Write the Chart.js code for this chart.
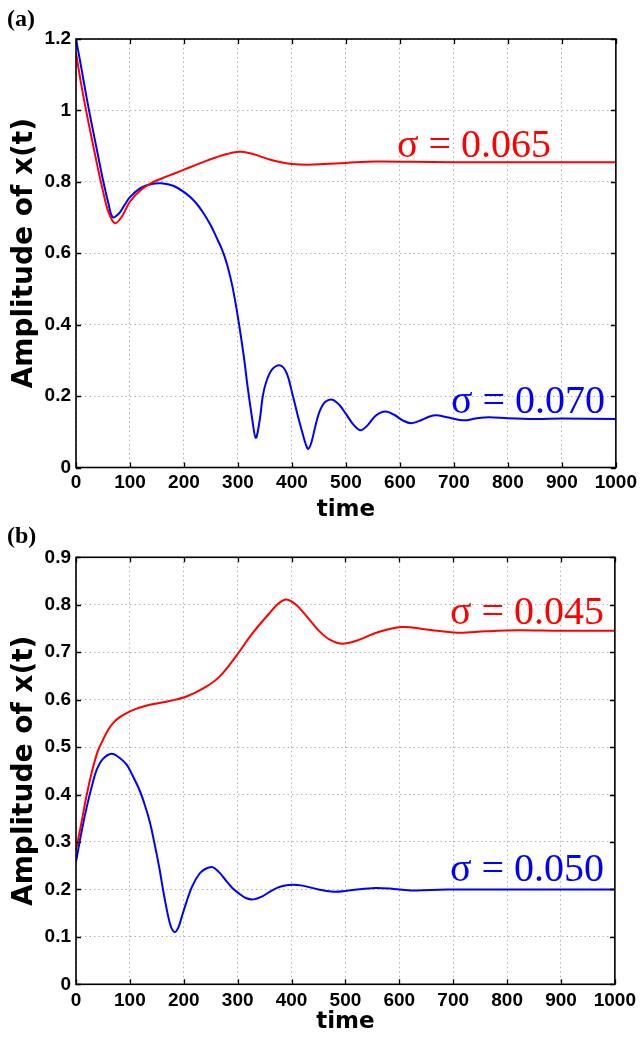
<!DOCTYPE html>
<html><head><meta charset="utf-8">
<script src="https://cdn.jsdelivr.net/npm/chart.js@4.4.0/dist/chart.umd.min.js"></script>
<style>
html,body{margin:0;padding:0;background:#fff;}
canvas{display:block;}
</style></head><body>
<canvas id="ca" width="641" height="520"></canvas>
<canvas id="cb" width="641" height="520"></canvas>
<script>
// ---------- tick values ----------
const timeTicks = [0,100,200,300,400,500,600,700,800,900,1000];
const ampTicksA = [0,0.2,0.4,0.6,0.8,1,1.2];
const ampTicksB = [0,0.1,0.2,0.3,0.4,0.5,0.6,0.7,0.8,0.9];

// ---------- panel (a) ----------
const tA065 = [0,10,20,30,40,50,60,72,85,100,120,140,160,180,200,220,240,260,280,302,320,340,360,380,400,430,460,500,555,620,700,800,900,1000];
const xA065 = [1.161,1.07,0.99,0.915,0.842,0.774,0.716,0.684,0.703,0.745,0.777,0.797,0.810,0.822,0.834,0.846,0.858,0.869,0.878,0.884,0.881,0.872,0.862,0.855,0.850,0.848,0.850,0.853,0.857,0.856,0.855,0.855,0.855,0.855];

const tA070 = [0,10,20,30,40,50,60,68,80,90,100,120,140,158,180,204,220,235,250,260,270,280,290,300,310,318,326,333,340,346,352,363,378,390,401,410,418,425,430,436,444,452,462,475,488,500,515,527,540,555,573,590,605,621,640,655,669,690,718,740,764,800,850,900,1000];
const xA070 = [1.2,1.118,1.033,0.955,0.88,0.805,0.74,0.701,0.712,0.735,0.757,0.783,0.794,0.796,0.789,0.767,0.745,0.715,0.677,0.645,0.612,0.568,0.505,0.42,0.32,0.225,0.14,0.083,0.13,0.2,0.238,0.274,0.286,0.265,0.205,0.15,0.105,0.068,0.052,0.07,0.12,0.16,0.184,0.190,0.175,0.150,0.118,0.104,0.118,0.145,0.157,0.147,0.132,0.124,0.133,0.143,0.146,0.140,0.132,0.137,0.141,0.138,0.136,0.137,0.136];

// ---------- panel (b) ----------
const tB045 = [0,10,20,30,40,50,60,70,80,93,110,130,150,173,204,241,266,296,327,358,375,389,400,413,430,450,470,493,520,560,604,650,708,760,820,900,1000];
const xB045 = [0.283,0.34,0.40,0.45,0.49,0.515,0.537,0.552,0.562,0.571,0.580,0.587,0.592,0.597,0.606,0.627,0.648,0.690,0.739,0.781,0.802,0.811,0.807,0.795,0.773,0.746,0.727,0.718,0.724,0.742,0.753,0.748,0.741,0.744,0.746,0.745,0.745];

const tB050 = [0,10,20,30,38,50,66,80,94,105,118,128,137,146,155,163,170,176,183,190,197,204,215,229,240,253,265,278,290,303,315,330,345,364,380,401,420,450,478,510,555,590,616,660,720,800,900,1000];
const xB050 = [0.258,0.32,0.374,0.42,0.451,0.475,0.486,0.478,0.463,0.44,0.409,0.377,0.342,0.295,0.243,0.19,0.149,0.122,0.110,0.12,0.145,0.170,0.205,0.233,0.243,0.247,0.237,0.219,0.203,0.191,0.182,0.179,0.185,0.198,0.206,0.210,0.208,0.200,0.195,0.198,0.203,0.201,0.198,0.199,0.200,0.200,0.200,0.200];

// ---------- labels ----------
const panelLabels = ['(a)','(b)'];
const sigmaA = ['σ = 0.065','σ = 0.070'];
const sigmaB = ['σ = 0.045','σ = 0.050'];
const sigmaPosA = [[880,0.869],[980,0.154]];
const sigmaPosB = [[980,0.759],[980,0.217]];

const RED = '#ff0000', BLUE = '#0000ff';
const pts = (t, v) => t.map((x,i)=>({x, y:v[i]}));

const decoPlugin = {
  id: 'deco',
  afterDraw(chart, args, o) {
    const {ctx, chartArea:{left,right,top,bottom}, scales:{x,y}} = chart;
    ctx.save();
    ctx.strokeStyle = '#000';
    ctx.lineWidth = 1.3;
    ctx.beginPath();
    x.ticks.forEach(t => {
      const p = Math.round(x.getPixelForValue(t.value)) + 0.5;
      ctx.moveTo(p, bottom); ctx.lineTo(p, bottom - 5);
      ctx.moveTo(p, top); ctx.lineTo(p, top + 5);
    });
    y.ticks.forEach(t => {
      const p = Math.round(y.getPixelForValue(t.value)) + 0.5;
      ctx.moveTo(left, p); ctx.lineTo(left + 5, p);
      ctx.moveTo(right, p); ctx.lineTo(right - 5, p);
    });
    ctx.stroke();
    ctx.lineWidth = 1.6;
    ctx.strokeRect(left, top, right - left, bottom - top);
    // panel label
    ctx.fillStyle = '#000';
    ctx.font = 'bold 24px "Liberation Serif", "Times New Roman", serif';
    ctx.textAlign = 'left';
    ctx.textBaseline = 'middle';
    ctx.fillText(o.label, 7, o.labelY);
    // sigma labels
    ctx.font = '40px "Liberation Serif", "Times New Roman", serif';
    ctx.textAlign = 'right';
    ctx.textBaseline = 'alphabetic';
    o.notes.forEach(n => {
      ctx.fillStyle = n.color;
      ctx.fillText(n.text, x.getPixelForValue(n.x), y.getPixelForValue(n.y));
    });
    ctx.restore();
  }
};

function makeChart(id, cfg) {
  const tickFont = {family: '"Liberation Sans", Arial, sans-serif', weight: 'bold', size: 19};
  new Chart(document.getElementById(id), {
    type: 'line',
    data: { datasets: cfg.series.map(s => ({
      data: pts(s.t, s.v), borderColor: s.color, backgroundColor: s.color,
      borderWidth: 2, pointRadius: 0, fill: false, tension: 0.35
    })) },
    options: {
      responsive: false, animation: false, devicePixelRatio: 1,
      layout: { padding: { top: cfg.padTop, right: 23, left: 0, bottom: 0 } },
      plugins: { legend: {display:false}, tooltip: {enabled:false},
        deco: { label: cfg.label, labelY: cfg.labelY, notes: cfg.notes } },
      scales: {
        x: {
          type: 'linear', min: 0, max: 1000,
          afterBuildTicks: s => { s.ticks = timeTicks.map(v => ({value: v})); },
          ticks: { callback: v => String(v), font: tickFont, color: '#000', padding: cfg.xPad, maxRotation: 0, autoSkip: false },
          grid: { color: '#b0b0b0', lineWidth: 1, drawTicks: false },
          border: { display: false, dash: [1.5, 3] },
          title: { display: true, text: 'time', color: '#000',
            font: {family: '"DejaVu Sans", sans-serif', weight: 'bold', size: 23, lineHeight: 0.8},
            padding: {top: 0, bottom: cfg.titlePad} },
          afterFit: s => { s.height = cfg.xHeight; }
        },
        y: {
          type: 'linear', min: cfg.yTicks[0], max: cfg.yTicks[cfg.yTicks.length-1],
          afterBuildTicks: s => { s.ticks = cfg.yTicks.map(v => ({value: v})); },
          ticks: { callback: v => String(v), font: tickFont, color: '#000', padding: 5, autoSkip: false },
          grid: { color: '#b0b0b0', lineWidth: 1, drawTicks: false },
          border: { display: false, dash: [1.5, 3] },
          title: { display: true, text: 'Amplitude of x(t)', color: '#000',
            font: {family: '"DejaVu Sans", sans-serif', weight: 'bold', size: 28, lineHeight: 1},
            padding: {top: 11, bottom: 0} },
          afterFit: s => { s.width = 76; }
        }
      }
    },
    plugins: [decoPlugin]
  });
}

makeChart('ca', {
  series: [{t: tA065, v: xA065, color: RED}, {t: tA070, v: xA070, color: BLUE}],
  yTicks: ampTicksA, padTop: 39, xHeight: 52.5, xPad: 4, titlePad: 0.5,
  label: panelLabels[0], labelY: 20,
  notes: [{text: sigmaA[0], x: sigmaPosA[0][0], y: sigmaPosA[0][1], color: RED},
          {text: sigmaA[1], x: sigmaPosA[1][0], y: sigmaPosA[1][1], color: BLUE}]
});
makeChart('cb', {
  series: [{t: tB045, v: xB045, color: RED}, {t: tB050, v: xB050, color: BLUE}],
  yTicks: ampTicksB, padTop: 37.3, xHeight: 55.7, xPad: 5, titlePad: 8.5,
  label: panelLabels[1], labelY: 17,
  notes: [{text: sigmaB[0], x: sigmaPosB[0][0], y: sigmaPosB[0][1], color: RED},
          {text: sigmaB[1], x: sigmaPosB[1][0], y: sigmaPosB[1][1], color: BLUE}]
});
</script>
</body></html>
